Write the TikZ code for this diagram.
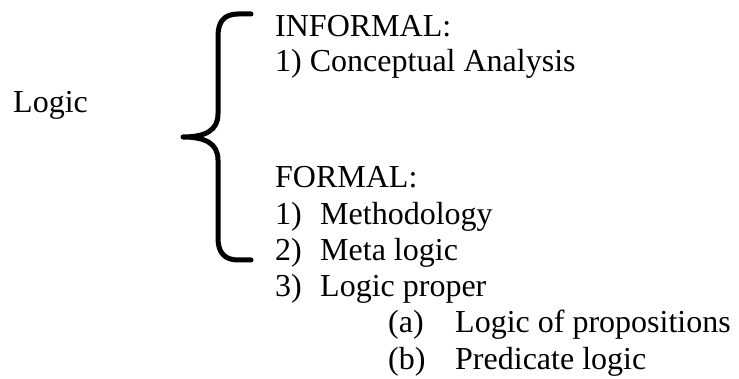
\documentclass[tikz,border=0pt]{standalone}
\usepackage{fontspec}
\setmainfont{Liberation Serif}
\usepackage{tikz}
\usetikzlibrary{positioning}
\tikzset{
    entry/.style={anchor=base west, inner sep=0pt, font=\fontsize{32}{37}\selectfont},
    bracket/.style={line width=5pt, line cap=round, line join=round}
}

\begin{document}
\begin{tikzpicture}[x=1pt, y=-1pt]
    \useasboundingbox (0,0) rectangle (739,379);
    % left term
    \node[entry] (logic) at (13,113) {Logic};
    % brace points
    \coordinate (br_top) at (251,14);
    \coordinate (br_tip) at (183,137);
    \coordinate (br_bot) at (251,260);
    \draw[bracket] (br_top) -- (238,14) .. controls (224,14) and (218,22) .. (218,36)
        -- (218,114) .. controls (218,130) and (206,137) .. (br_tip)
        .. controls (206,137) and (218,144) .. (218,160)
        -- (218,238) .. controls (218,252) and (224,260) .. (238,260) -- (br_bot);
    % informal branch
    \node[entry] (informal) at (275,37) {INFORMAL:};
    \node[entry] (concept) at (275,72) {1) Conceptual Analysis};
    % formal branch
    \node[entry] (formal) at (275,188) {FORMAL:};
    \node[entry] (num_one) at (275,225) {1)};
    \node[entry] (method) at (320,225) {Methodology};
    \node[entry] (num_two) at (275,261) {2)};
    \node[entry] (meta) at (320,261) {Meta logic};
    \node[entry] (num_three) at (275,297) {3)};
    \node[entry] (proper) at (320,297) {Logic proper};
    \node[entry] (sub_a) at (388,333) {(a)};
    \node[entry] (props) at (455,333) {Logic of propositions};
    \node[entry] (sub_b) at (388,369) {(b)};
    \node[entry] (pred) at (455,369) {Predicate logic};
\end{tikzpicture}
\end{document}
